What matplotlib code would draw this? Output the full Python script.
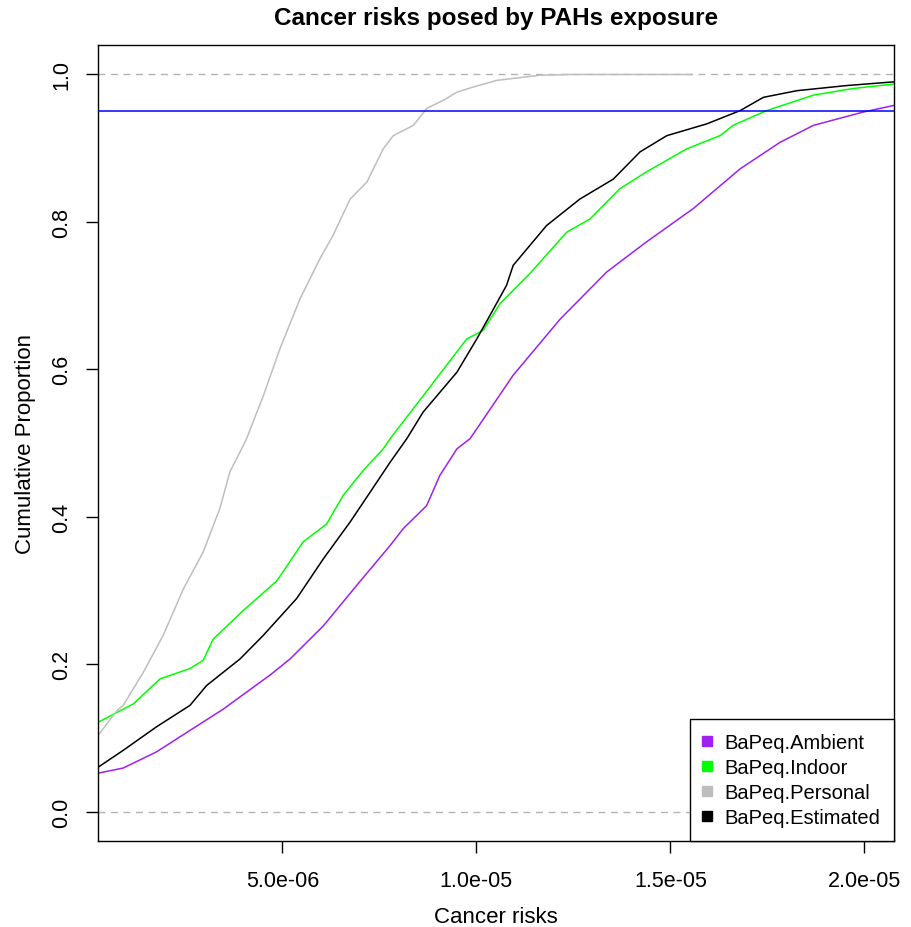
import numpy as np
import matplotlib
matplotlib.use('Agg')
import matplotlib.pyplot as plt
from matplotlib.lines import Line2D

plt.rcParams['font.family'] = ['Liberation Sans', 'DejaVu Sans']

# Pontos (risco em unidades de 1e-6, proporcao acumulada)
amb_risk = [0.25, 0.90, 1.76, 2.62, 3.48, 4.68, 5.20, 6.06, 6.92, 7.78, 8.12, 8.72,
            9.06, 9.50, 9.84, 10.10, 10.95, 12.16, 13.36, 14.39, 15.59, 16.80,
            17.83, 18.69, 19.97, 20.76]
amb_prop = [0.052, 0.059, 0.081, 0.110, 0.139, 0.185, 0.207, 0.252, 0.307, 0.361,
            0.384, 0.415, 0.456, 0.492, 0.506, 0.526, 0.592, 0.668, 0.732, 0.773,
            0.818, 0.872, 0.908, 0.931, 0.949, 0.958]

ind_risk = [0.25, 1.16, 1.85, 2.62, 2.96, 3.22, 4.00, 4.86, 5.54, 6.14, 6.57, 7.09,
            7.60, 7.78, 8.63, 9.75, 10.18, 10.61, 11.38, 12.33, 12.93, 13.70,
            14.39, 15.42, 16.28, 16.62, 17.48, 18.69, 19.72, 20.76]
ind_prop = [0.121, 0.146, 0.180, 0.194, 0.205, 0.234, 0.273, 0.313, 0.366, 0.390,
            0.429, 0.463, 0.492, 0.506, 0.564, 0.641, 0.653, 0.689, 0.730, 0.786,
            0.804, 0.845, 0.868, 0.899, 0.917, 0.931, 0.951, 0.972, 0.981, 0.987]

pers_risk = [0.25, 0.74, 0.90, 1.42, 1.93, 2.45, 2.96, 3.39, 3.65, 3.95, 4.08, 4.51,
             4.94, 5.46, 5.97, 6.31, 6.75, 7.18, 7.60, 7.86, 8.38, 8.72, 9.15,
             9.50, 9.92, 10.53, 11.64, 12.42, 15.55]
pers_prop = [0.103, 0.137, 0.144, 0.189, 0.239, 0.302, 0.352, 0.411, 0.461, 0.492,
             0.506, 0.564, 0.628, 0.696, 0.750, 0.782, 0.831, 0.854, 0.899, 0.917,
             0.931, 0.954, 0.965, 0.976, 0.983, 0.992, 0.999, 1.000, 1.000]

est_risk = [0.25, 0.90, 1.76, 2.62, 3.05, 3.91, 4.51, 5.37, 6.06, 6.75, 7.26, 7.78,
            8.21, 8.63, 9.50, 10.01, 10.35, 10.78, 10.95, 11.81, 12.67, 13.53,
            14.22, 14.91, 15.94, 16.80, 17.40, 18.26, 19.55, 20.76]
est_prop = [0.060, 0.083, 0.115, 0.144, 0.171, 0.207, 0.239, 0.289, 0.343, 0.393,
            0.433, 0.474, 0.506, 0.542, 0.596, 0.641, 0.673, 0.714, 0.741, 0.795,
            0.831, 0.858, 0.895, 0.917, 0.933, 0.951, 0.969, 0.978, 0.985, 0.990]

series_names = ['BaPeq.Ambient', 'BaPeq.Indoor', 'BaPeq.Personal', 'BaPeq.Estimated']
series_cols = ['#A020F0', '#00FF00', '#BEBEBE', '#000000']
x_ticks = [5e-6, 1e-5, 1.5e-5, 2e-5]
x_tick_labels = ['5.0e-06', '1.0e-05', '1.5e-05', '2.0e-05']
y_ticks = [0.0, 0.2, 0.4, 0.6, 0.8, 1.0]
y_tick_labels = ['0.0', '0.2', '0.4', '0.6', '0.8', '1.0']

fig = plt.figure(figsize=(9.12, 9.28), dpi=100)
ax = fig.add_axes([98 / 912, 86 / 928, 796 / 912, 796 / 928])

# linhas tracejadas de referencia (0 e 1), como no plot.ecdf
for h in [0.0, 1.0]:
    ax.axhline(h, color='#B3B3B3', lw=1.0, dashes=(5, 4), zorder=1)

curves = [(amb_risk, amb_prop), (ind_risk, ind_prop), (pers_risk, pers_prop), (est_risk, est_prop)]
for (xr, yp), col in zip(curves, series_cols):
    ax.plot(np.array(xr) * 1e-6, yp, color=col, lw=1.1, zorder=2)

ax.axhline(0.95, color='#0000FF', lw=1.1, zorder=3)

ax.set_xlim(0.25e-6, 20.765e-6)
ax.set_ylim(-0.04, 1.04)
ax.set_xticks(x_ticks)
ax.set_xticklabels(x_tick_labels)
ax.set_yticks(y_ticks)
ax.set_yticklabels(y_tick_labels, rotation=90, va='center')
ax.tick_params(direction='out', length=8.6, width=1.0, labelsize=15.5, colors='black')
ax.tick_params(axis='x', pad=12)
ax.tick_params(axis='y', pad=10)
for s in ax.spines.values():
    s.set_linewidth(1.0)
    s.set_color('black')

ax.set_xlabel('Cancer risks', fontsize=16, labelpad=11)
ax.set_ylabel('Cumulative Proportion', fontsize=16, labelpad=11)
ax.set_title('Cancer risks posed by PAHs exposure', fontsize=17.5, fontweight='bold', pad=15)

handles = [Line2D([], [], marker='s', linestyle='none', color=c, markersize=6.5) for c in series_cols]
leg = ax.legend(handles, series_names, loc='lower right', bbox_to_anchor=(1, 0),
                borderaxespad=0, fontsize=14.5, frameon=True, fancybox=False,
                handlelength=0.3, handletextpad=0.7, borderpad=0.7, labelspacing=0.3)
leg.get_frame().set_edgecolor('black')
leg.get_frame().set_linewidth(1.0)
leg.get_frame().set_alpha(1)

plt.savefig('out.png', dpi=100)
